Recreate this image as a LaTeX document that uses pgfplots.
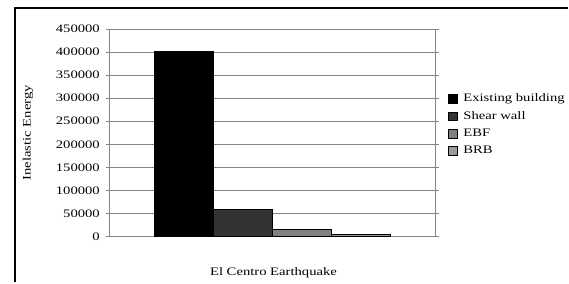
\documentclass[border=0pt]{standalone}
\usepackage{fontspec}
\setmainfont{Liberation Serif}[FakeStretch=1.28]
\usepackage{pgfplots}
\pgfplotsset{compat=1.18}
\definecolor{cA}{HTML}{000000}
\definecolor{cB}{HTML}{333333}
\definecolor{cC}{HTML}{808080}
\definecolor{cD}{HTML}{999999}
\definecolor{gridc}{HTML}{858585}
\begin{document}
\begin{tikzpicture}[x=1bp,y=1bp]
\path (0,0) rectangle (569,283);
\draw[line width=2.2bp,black] (15,0) -- (15,275) -- (569,275);
\begin{axis}[
  at={(110bp,46bp)}, anchor=south west,
  scale only axis, width=326bp, height=208bp,
  ybar=0pt, bar width=59bp,
  xmin=-1, xmax=1, ymin=0, ymax=450000,
  xtick=\empty,
  ytick={0,50000,...,450000},
  scaled y ticks=false,
  /pgf/number format/assume math mode=true,
  yticklabel style={/pgf/number format/fixed, /pgf/number format/1000 sep={}, font=\fontsize{11.5}{12}\selectfont, xshift=-3bp},
  ytick style={draw=gridc, line width=0.8pt},
  tick align=outside, major tick length=3.5bp,
  ymajorgrids, grid style={draw=gridc, line width=0.8pt},
  axis line style={draw=gridc, line width=0.8pt},
  ylabel={Inelastic Energy},
  ylabel style={font=\fontsize{11.5}{12}\selectfont, at={(-82bp,104bp)}, anchor=center},
  xlabel={El Centro Earthquake},
  xlabel style={font=\fontsize{11.5}{12}\selectfont, at={(164bp,-36bp)}, anchor=center},
  legend style={at={(339bp,145bp)}, anchor=north west, draw=none, fill=none,
    font=\fontsize{11.5}{12}\selectfont, row sep=4.2bp, inner sep=0pt,
    /tikz/every odd column/.append style={column sep=4bp}},
  legend cell align=left,
  legend image code/.code={\draw[#1, draw=black, line width=0.6pt] (0bp,-4.2bp) rectangle (8.5bp,4.2bp);},
]
\addplot[fill=cA, draw=black, line width=0.6pt] coordinates {(0,402000)};
\addplot[fill=cB, draw=black, line width=0.6pt] coordinates {(0,59000)};
\addplot[fill=cC, draw=black, line width=0.6pt] coordinates {(0,16500)};
\addplot[fill=cD, draw=black, line width=0.6pt] coordinates {(0,4000)};
\legend{Existing building, Shear wall, EBF, BRB}
\end{axis}
\end{tikzpicture}
\end{document}
